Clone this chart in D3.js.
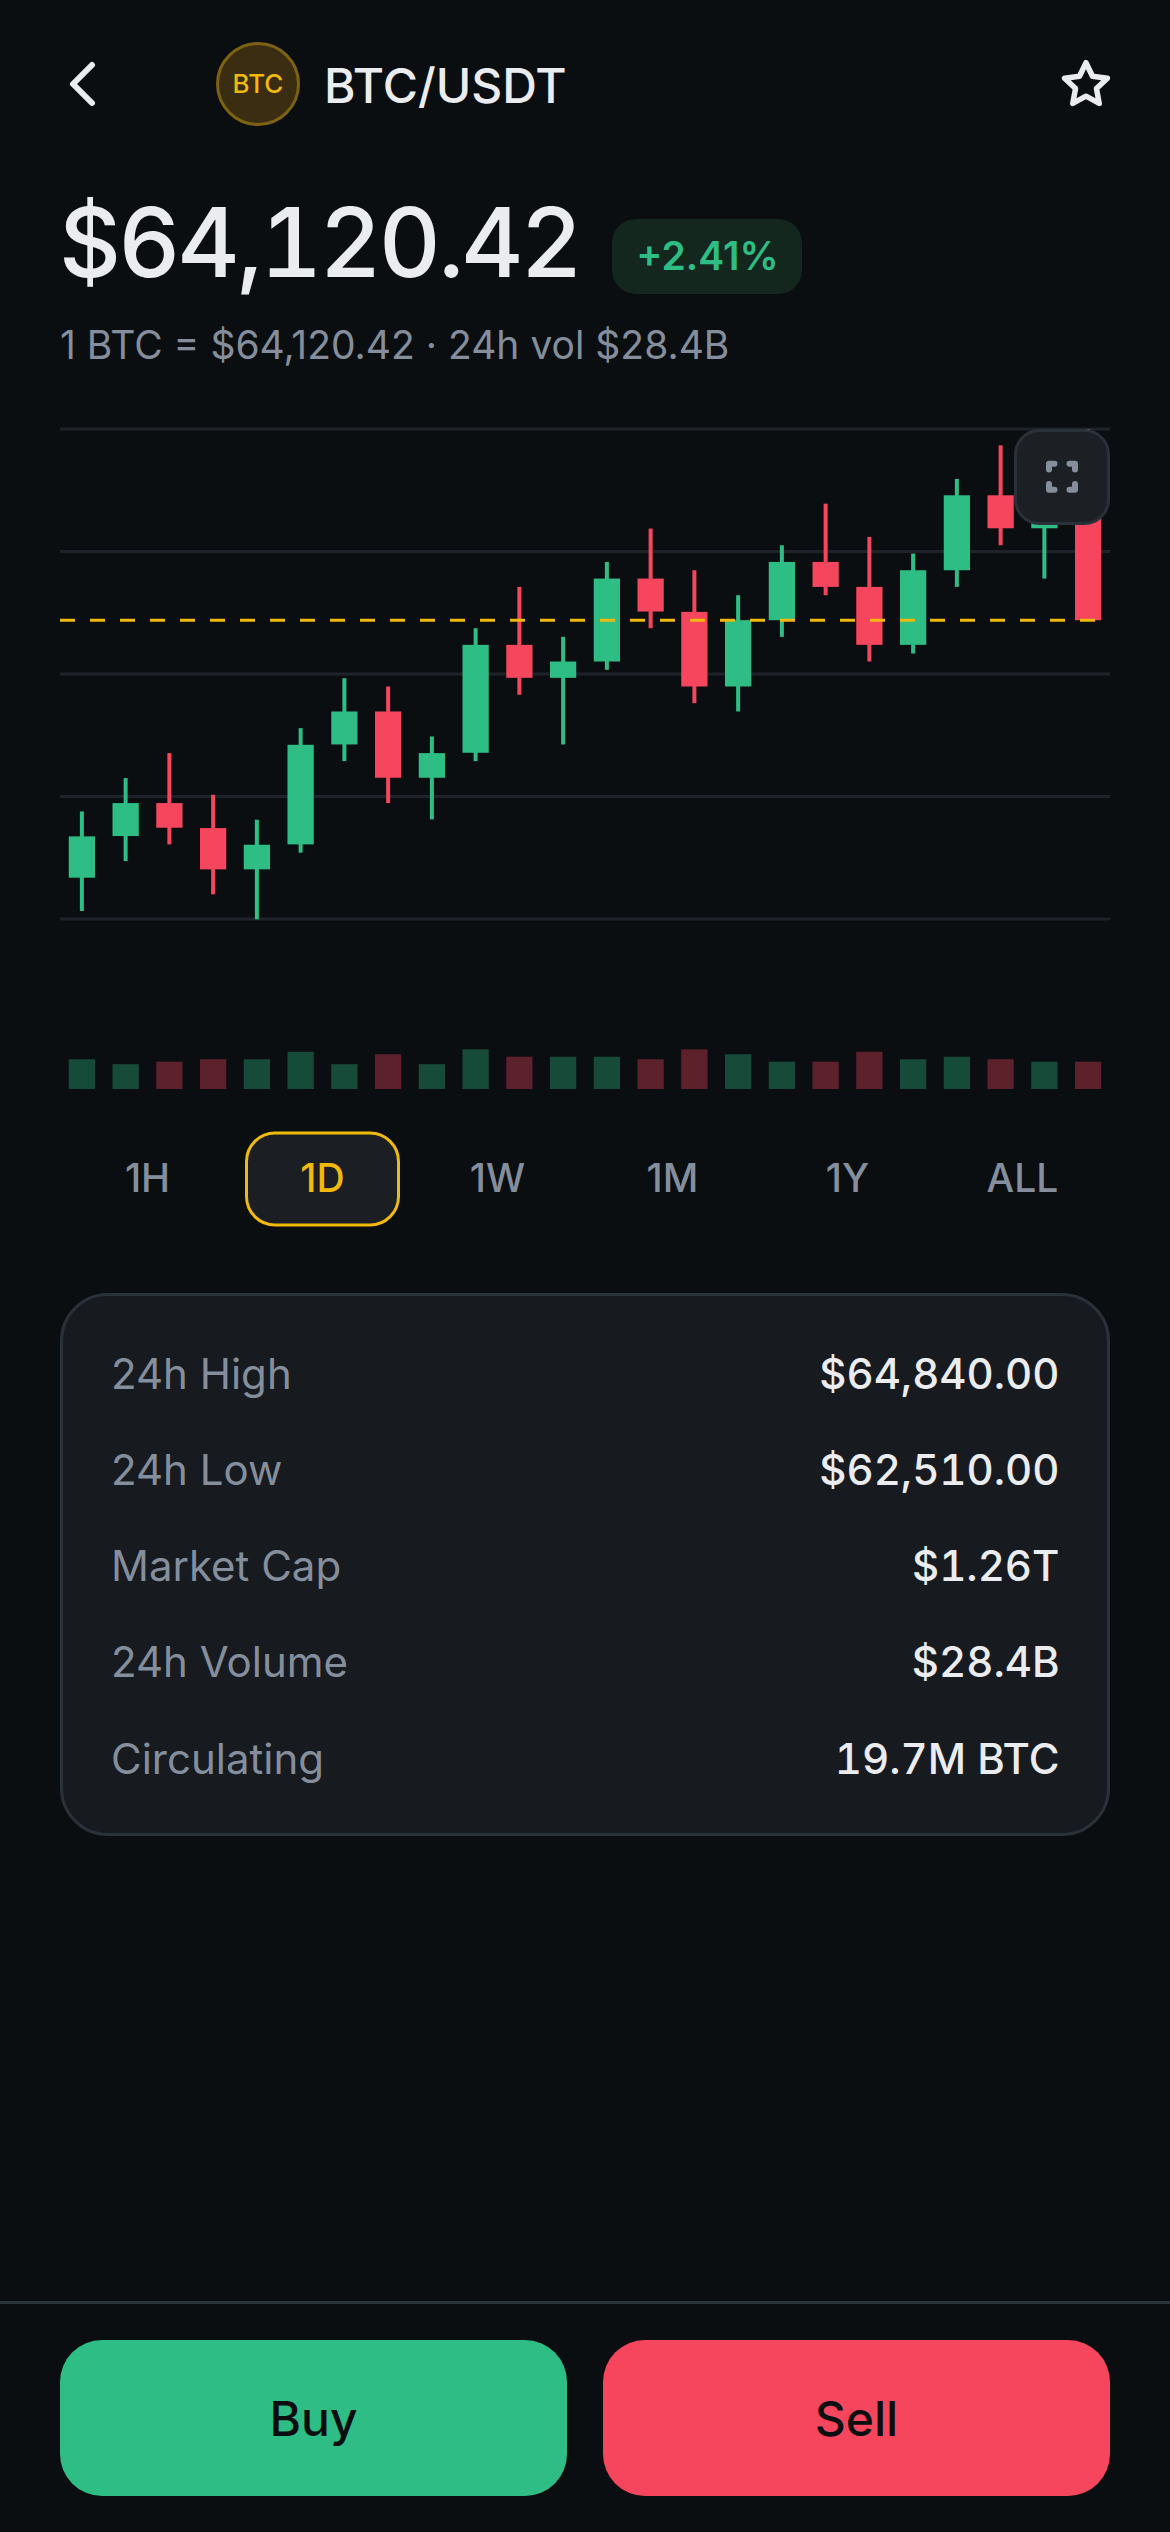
<!DOCTYPE html>
<html>
<head>
<meta charset="utf-8">
<script src="https://cdn.jsdelivr.net/npm/d3@7/dist/d3.min.js"></script>
<style>
html,body{margin:0;padding:0;background:#0b0e11;width:1170px;height:2532px;overflow:hidden}
svg{display:block}
text{font-family:Inter,"Noto Sans",sans-serif}
.tn{font-variant-numeric:tabular-nums;font-feature-settings:"tnum" 1}
</style>
</head>
<body>
<svg id="app" width="1170" height="2532"></svg>
<script>
const opens  = [62574,62824,63022,62872,62624,62774,63374,63572,63174,63324,63972,63774,63872,64370,64170,63722,64120,64470,64320,63972,64420,64870,64672,64820];
const closes = [62822,63022,62874,62624,62772,63372,63572,63174,63322,63972,63774,63872,64370,64172,63722,64120,64470,64320,63972,64420,64870,64672,64820,64120];
const highs  = [62972,63172,63322,63072,62922,63472,63772,63722,63422,64072,64320,64020,64470,64670,64420,64270,64570,64820,64620,64520,64968,65170,64920,65268];
const lows   = [62374,62674,62774,62474,62324,62724,63274,63022,62924,63274,63672,63374,63822,64072,63622,63572,64020,64270,63872,63920,64320,64570,64370,64120];
const volumes= [12,10,11,12,12,15,10,14,10,16,13,13,13,12,16,14,11,11,15,12,13,12,11,11];
const lastPrice = 64120.42;
const gridPrices = [65268,64532.5,63797,63061.5,62326];
const ranges = ["1H","1D","1W","1M","1Y","ALL"];
const activeRange = "1D";
const statLabels = ["24h High","24h Low","Market Cap","24h Volume","Circulating"];
const statValues = ["$64,840.00","$62,510.00","$1.26T","$28.4B","19.7M BTC"];

const BG="#0b0e11",GREEN="#2ebd85",RED="#f6465d",YELLOW="#f0b90b",TEXT="#eaecef",MUTED="#848e9c",CARD="#171b20",BORDER="#2b3139",GRID="#1e2329";
const svg=d3.select("#app");
svg.append("rect").attr("width",1170).attr("height",2532).attr("fill",BG);

function txt(x,y,s,size,weight,fill,anchor,cls){
  return svg.append("text").attr("x",x).attr("y",y).attr("font-size",size).attr("font-weight",weight)
    .attr("fill",fill).attr("text-anchor",anchor||"start").attr("class",cls||null).text(s);
}

// header
svg.append("path").attr("d","M92 65 L73 84 L92 103").attr("fill","none").attr("stroke",TEXT).attr("stroke-width",6).attr("stroke-linecap","round").attr("stroke-linejoin","round");
svg.append("circle").attr("cx",258).attr("cy",84).attr("r",40.5).attr("fill","#3a2d12").attr("stroke","#7d6214").attr("stroke-width",3);
txt(258,92.5,"BTC",26,500,YELLOW,"middle");
txt(324,102.5,"BTC/USDT",48,500,TEXT);
const starPts=d3.range(10).map(i=>{const r=i%2?11:22.5,a=-Math.PI/2+i*Math.PI/5;return [1086+r*Math.cos(a),85.2+r*Math.sin(a)]});
svg.append("path").attr("d",d3.line().curve(d3.curveLinearClosed)(starPts)).attr("fill","none").attr("stroke",TEXT).attr("stroke-width",5.5).attr("stroke-linejoin","round");

// price
txt(59,277,"$64,120.42",96,550,TEXT,"start","tn").attr("letter-spacing",-2.8);
svg.append("rect").attr("x",612).attr("y",219).attr("width",190).attr("height",75).attr("rx",24).attr("fill","#13271f");
txt(707.5,270,"+2.41%",39,600,GREEN,"middle");
txt(60,359,"1 BTC = $64,120.42 · 24h vol $28.4B",39,400,MUTED);

// chart
const x=d3.scaleBand().domain(d3.range(opens.length)).range([60,1110]).paddingInner(0.4).paddingOuter(0.2);
const y=d3.scaleLinear().domain([62326,65268]).range([919,429]);
const v=d3.scaleLinear().domain([0,16]).range([1089,1049.3]);
svg.append("g").selectAll("line").data(gridPrices).join("line")
  .attr("x1",60).attr("x2",1110).attr("y1",d=>y(d)).attr("y2",d=>y(d)).attr("stroke",GRID).attr("stroke-width",3);
const col=i=>closes[i]>=opens[i]?GREEN:RED;
const idx=d3.range(opens.length);
svg.append("g").selectAll("rect").data(idx).join("rect")
  .attr("x",i=>x(i)+x.bandwidth()/2-2).attr("width",4)
  .attr("y",i=>y(highs[i])).attr("height",i=>y(lows[i])-y(highs[i])).attr("fill",col);
svg.append("g").selectAll("rect").data(idx).join("rect")
  .attr("x",i=>x(i)).attr("width",x.bandwidth())
  .attr("y",i=>y(Math.max(opens[i],closes[i]))).attr("height",i=>Math.abs(y(opens[i])-y(closes[i]))).attr("fill",col);
svg.append("line").attr("x1",60).attr("x2",1110).attr("y1",y(lastPrice)).attr("y2",y(lastPrice))
  .attr("stroke",YELLOW).attr("stroke-width",3).attr("stroke-dasharray","15 15");
svg.append("g").selectAll("rect").data(idx).join("rect")
  .attr("x",i=>x(i)).attr("width",x.bandwidth())
  .attr("y",i=>v(volumes[i])).attr("height",i=>v(0)-v(volumes[i])).attr("fill",col).attr("fill-opacity",0.35);

// fullscreen button
svg.append("rect").attr("x",1015.5).attr("y",430.5).attr("width",93).attr("height",93).attr("rx",24).attr("fill","#1c2025").attr("stroke",BORDER).attr("stroke-width",3);
svg.append("path").attr("d","M1049 469.5 V463.7 H1054.5 M1069.5 463.7 H1075 V469.5 M1075 484 V489.7 H1069.5 M1054.5 489.7 H1049 V484")
  .attr("fill","none").attr("stroke",MUTED).attr("stroke-width",6).attr("stroke-linecap","round").attr("stroke-linejoin","round");

// ranges
const rx=d3.scaleBand().domain(ranges).range([60,1110]);
svg.append("rect").attr("x",rx(activeRange)+11.5).attr("y",1133).attr("width",rx.bandwidth()-23).attr("height",92).attr("rx",28.5).attr("fill","#1b1f24").attr("stroke",YELLOW).attr("stroke-width",3);
ranges.forEach(r=>txt(rx(r)+rx.bandwidth()/2,1191.7,r,39,500,r===activeRange?YELLOW:MUTED,"middle"));

// stats card
svg.append("rect").attr("x",61.5).attr("y",1294.5).attr("width",1047).attr("height",540).attr("rx",46.5).attr("fill",CARD).attr("stroke",BORDER).attr("stroke-width",3);
const sy=d3.scalePoint().domain(statLabels).range([1388.5,1773.5]);
statLabels.forEach((l,i)=>{
  txt(111,sy(l),l,42,400,MUTED);
  txt(1059.5,sy(l),statValues[i],42,550,TEXT,"end","tn");
});

// bottom bar
svg.append("rect").attr("x",0).attr("y",2301).attr("width",1170).attr("height",3).attr("fill",BORDER);
svg.append("rect").attr("x",60).attr("y",2340).attr("width",507).attr("height",156).attr("rx",42).attr("fill",GREEN);
svg.append("rect").attr("x",603).attr("y",2340).attr("width",507).attr("height",156).attr("rx",42).attr("fill",RED);
txt(313.5,2435.7,"Buy",48,550,BG,"middle");
txt(856.5,2435.7,"Sell",48,550,BG,"middle");
</script>
</body>
</html>
